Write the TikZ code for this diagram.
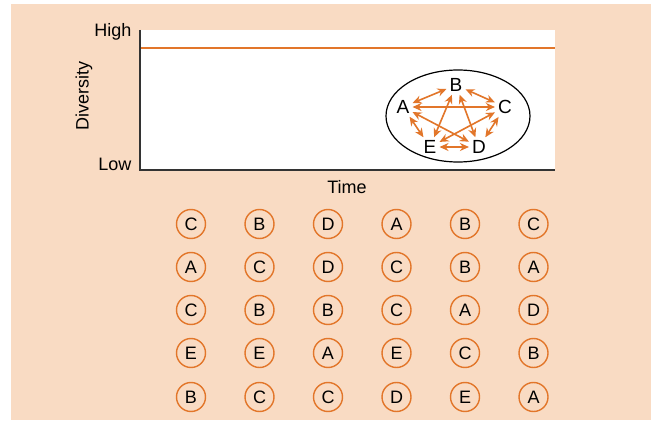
\documentclass[tikz,border=0pt]{standalone}
\usepackage{fontspec}
\setmainfont{Liberation Sans}
\usetikzlibrary{arrows.meta}
\definecolor{peach}{HTML}{F9DBC3}
\definecolor{rust}{HTML}{E2762A}
\definecolor{axisgray}{HTML}{333333}
\begin{document}
\begin{tikzpicture}[x=1pt, y=-1pt, >={Stealth[length=9pt, width=8pt]},
  species/.style={circle, draw=rust, line width=1.4pt, minimum size=29pt, inner sep=0pt, font=\fontsize{18}{18}\selectfont},
  taxon/.style={inner sep=3pt, font=\fontsize{19}{19}\selectfont},
  link/.style={<->, rust, line width=1.6pt},
  lbl/.style={font=\fontsize{18}{18}\selectfont}]
\useasboundingbox (0,0) rectangle (651,422);
\fill[peach] (11,4) rectangle (651,420);
\fill[white] (140,30) rectangle (555,170);
\draw[rust, line width=2pt] (140,48) -- (555,48);
\draw[axisgray, line width=1.5pt] (140,30) -- (140,170) -- (555,170);
\node[lbl, anchor=east] (high) at (135,32) {High};
\node[lbl, anchor=east] (low) at (135,164) {Low};
\node[lbl, rotate=90] (div) at (84,96) {Diversity};
\node[lbl] (time) at (347,187) {Time};
% community
\draw[black, line width=1.2pt] (458,116) ellipse [x radius=72, y radius=46];
\node[taxon] (A) at (403,107) {A};
\node[taxon] (B) at (456,85) {B};
\node[taxon] (C) at (505,107) {C};
\node[taxon] (D) at (479,147) {D};
\node[taxon] (E) at (430,147) {E};
\draw[link] (A) -- (B);
\draw[link] (B) -- (C);
\draw[link] (C) -- (D);
\draw[link] (D) -- (E);
\draw[link] (E) -- (A);
\draw[link] (A) -- (C);
\draw[link] (A) -- (D);
\draw[link] (B) -- (E);
\draw[link] (B) -- (D);
\draw[link] (C) -- (E);
% samples
\foreach \l [count=\i] in {C,B,D,A,B,C}
  \node[species] (r1c\i) at ({191+68.5*(\i-1)},224) {\l};
\foreach \l [count=\i] in {A,C,D,C,B,A}
  \node[species] (r2c\i) at ({191+68.5*(\i-1)},267) {\l};
\foreach \l [count=\i] in {C,B,B,C,A,D}
  \node[species] (r3c\i) at ({191+68.5*(\i-1)},310) {\l};
\foreach \l [count=\i] in {E,E,A,E,C,B}
  \node[species] (r4c\i) at ({191+68.5*(\i-1)},353) {\l};
\foreach \l [count=\i] in {B,C,C,D,E,A}
  \node[species] (r5c\i) at ({191+68.5*(\i-1)},397) {\l};
\end{tikzpicture}
\end{document}
